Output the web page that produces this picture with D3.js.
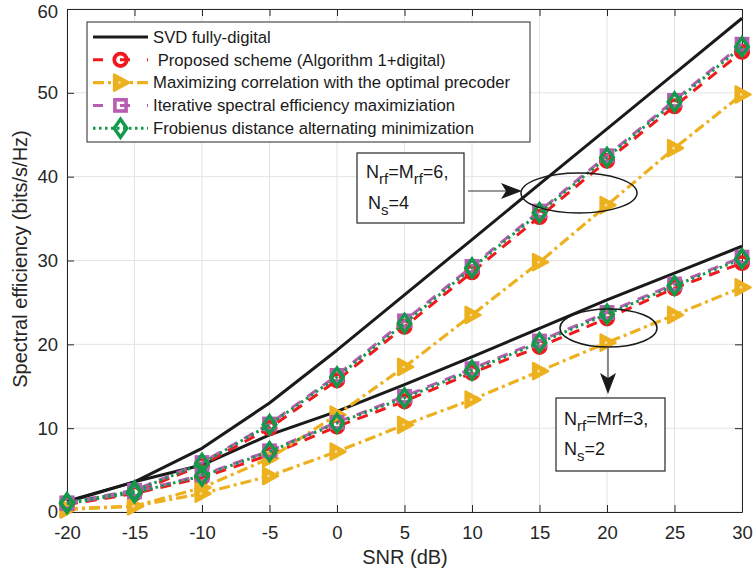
<!DOCTYPE html>
<html>
<head>
<meta charset="utf-8">
<script src="https://cdn.jsdelivr.net/npm/d3@7/dist/d3.min.js"></script>
<style>
  html, body { margin: 0; padding: 0; background: #fff; }
  svg { display: block; font-family: "Liberation Sans", Arial, Helvetica, sans-serif; }
</style>
</head>
<body>
<svg id="chart" width="756" height="578"></svg>
<script>
// SNR sweep (dB)
const snr = [-20, -15, -10, -5, 0, 5, 10, 15, 20, 25, 30];

// Nrf = Mrf = 6, Ns = 4
const svd6  = [1.3, 3.6, 7.6, 13.0, 19.3, 25.9, 32.5, 39.1, 45.7, 52.3, 58.9];
const prop6 = [1.0, 2.3, 5.6, 10.0, 15.7, 22.1, 28.6, 35.2, 41.9, 48.4, 54.9];
const corr6 = [0.4, 0.7, 2.9, 6.4, 11.6, 17.3, 23.5, 29.8, 36.6, 43.4, 49.8];
const iter6 = [1.1, 2.6, 5.9, 10.5, 16.3, 22.8, 29.3, 35.9, 42.5, 49.1, 55.8];
const frob6 = [1.1, 2.5, 5.8, 10.4, 16.1, 22.5, 29.1, 35.7, 42.3, 48.9, 55.5];

// Nrf = Mrf = 3, Ns = 2
const svd3  = [1.2, 3.6, 5.6, 9.2, 12.0, 15.2, 18.5, 21.9, 25.3, 28.5, 31.7];
const prop3 = [0.9, 2.2, 4.1, 6.8, 10.2, 13.2, 16.6, 19.7, 23.1, 26.7, 29.7];
const corr3 = [0.3, 0.7, 2.2, 4.3, 7.2, 10.4, 13.4, 16.8, 20.2, 23.5, 26.8];
const iter3 = [1.0, 2.4, 4.4, 7.3, 10.7, 13.8, 17.1, 20.4, 23.8, 27.2, 30.4];
const frob3 = [1.0, 2.3, 4.3, 7.2, 10.6, 13.6, 16.9, 20.2, 23.6, 27.0, 30.2];

const xTicks = [-20, -15, -10, -5, 0, 5, 10, 15, 20, 25, 30];
const yTicks = [0, 10, 20, 30, 40, 50, 60];

const legendLabels = [
  "SVD fully-digital",
  " Proposed scheme (Algorithm 1+digital)",
  "Maximizing correlation with the optimal precoder",
  "Iterative spectral efficiency maximiziation",
  "Frobienus distance alternating minimization"
];

// series styles
const styles = [
  { color: "#1a1a1a", dash: null,            marker: null,       width: 3 },
  { color: "#f0191e", dash: "11,8",          marker: "circle",   width: 3 },
  { color: "#edb120", dash: "11,4,3,4",      marker: "triangle", width: 3.2 },
  { color: "#b85db3", dash: "11,8",          marker: "square",   width: 3 },
  { color: "#13994a", dash: "2.5,3.5",       marker: "diamond",  width: 3 }
];

const groups = [
  [svd6, prop6, corr6, iter6, frob6],
  [svd3, prop3, corr3, iter3, frob3]
];

const svg = d3.select("#chart");
const L = 67, R = 742, T = 9, B = 512;

const x = d3.scaleLinear().domain([-20, 30]).range([L, R]);
const y = d3.scaleLinear().domain([0, 60]).range([B, T]);

// grid
const grid = svg.append("g").attr("stroke", "#e3e3e3").attr("stroke-width", 1);
xTicks.forEach(t => grid.append("line")
  .attr("x1", x(t)).attr("x2", x(t)).attr("y1", T).attr("y2", B));
yTicks.forEach(t => grid.append("line")
  .attr("x1", L).attr("x2", R).attr("y1", y(t)).attr("y2", y(t)));

// axes
const axisColor = "#262626";
const tickFont = 18.5;
const gx = svg.append("g").attr("transform", `translate(0,${B})`)
  .call(d3.axisBottom(x).tickValues(xTicks).tickSizeInner(-7).tickSizeOuter(0).tickPadding(14));
const gy = svg.append("g").attr("transform", `translate(${L},0)`)
  .call(d3.axisLeft(y).tickValues(yTicks).tickSizeInner(-7).tickSizeOuter(0).tickPadding(9));
const gxt = svg.append("g").attr("transform", `translate(0,${T})`)
  .call(d3.axisTop(x).tickValues(xTicks).tickSizeInner(-7).tickSizeOuter(0).tickFormat(""));
const gyr = svg.append("g").attr("transform", `translate(${R},0)`)
  .call(d3.axisRight(y).tickValues(yTicks).tickSizeInner(-7).tickSizeOuter(0).tickFormat(""));
[gx, gy, gxt, gyr].forEach(g => {
  g.select(".domain").attr("stroke", axisColor).attr("stroke-width", 1);
  g.selectAll(".tick line").attr("stroke", axisColor);
  g.selectAll(".tick text").attr("fill", "#262626").attr("font-size", tickFont)
    .attr("font-family", "Liberation Sans, Arial, sans-serif");
});
gx.selectAll(".tick text").text(d => d < 0 ? "-" + Math.abs(d) : d);
// keep the top label inside the page
gy.selectAll(".tick text").filter(d => d === 60).attr("dy", "0.45em");

const line = d3.line().x((d, i) => x(snr[i])).y(d => y(d));
const plot = svg.append("g");

function drawMarker(g, kind, cx, cy, color, scale = 1) {
  const s = scale;
  if (kind === "circle") {
    g.append("circle").attr("cx", cx).attr("cy", cy).attr("r", 6.2 * s)
      .attr("fill", "none").attr("stroke", color).attr("stroke-width", 3.8);
  } else if (kind === "square") {
    const h = 5.6 * s;
    g.append("rect").attr("x", cx - h).attr("y", cy - h).attr("width", 2 * h).attr("height", 2 * h)
      .attr("fill", "none").attr("stroke", color).attr("stroke-width", 3.6);
  } else if (kind === "diamond") {
    const h = 9 * s, w = 6.3 * s;
    g.append("path").attr("d", `M${cx},${cy - h}L${cx + w},${cy}L${cx},${cy + h}L${cx - w},${cy}Z`)
      .attr("fill", "none").attr("stroke", color).attr("stroke-width", 3.4);
  } else if (kind === "triangle") {
    const h = 8.5 * s;
    g.append("path").attr("d", `M${cx + h},${cy}L${cx - h * 0.75},${cy - h * 0.95}L${cx - h * 0.75},${cy + h * 0.95}Z`)
      .attr("fill", color).attr("stroke", color).attr("stroke-width", 2.5).attr("stroke-linejoin", "round");
    g.append("circle").attr("cx", cx - 1).attr("cy", cy).attr("r", 1.3).attr("fill", "#f7dea0");
  }
}

// draw each series for both antenna configurations, layered by series
styles.forEach((st, si) => {
  groups.forEach(grp => {
    const vals = grp[si];
    const p = plot.append("path").datum(vals).attr("d", line)
      .attr("fill", "none").attr("stroke", st.color).attr("stroke-width", st.width)
      .attr("stroke-linejoin", "round");
    if (st.dash) p.attr("stroke-dasharray", st.dash);
    if (st.marker) {
      const mg = plot.append("g");
      vals.forEach((v, i) => drawMarker(mg, st.marker, x(snr[i]), y(v), st.color));
    }
  });
});

// legend
const lg = svg.append("g");
const lgX = 87, lgY = 22, lgW = 443, lgH = 120;
lg.append("rect").attr("x", lgX).attr("y", lgY).attr("width", lgW).attr("height", lgH)
  .attr("fill", "#fff").attr("stroke", "#262626").attr("stroke-width", 1);
legendLabels.forEach((lab, i) => {
  const ry = lgY + 15 + i * 22.8;
  const st = styles[i];
  const l = lg.append("line").attr("x1", 93).attr("x2", 148).attr("y1", ry).attr("y2", ry)
    .attr("stroke", st.color).attr("stroke-width", st.width);
  if (st.dash) l.attr("stroke-dasharray", st.dash);
  if (i === 1 || i === 3) l.attr("stroke-dasharray", "10,17");
  if (st.marker) drawMarker(lg, st.marker, 120.5, ry, st.color);
  lg.append("text").attr("x", 153).attr("y", ry + 5.8).attr("font-size", 16.7)
    .attr("fill", "#1a1a1a").style("white-space", "pre").text(lab);
});

// annotations
const ann = svg.append("g");
function annBox(bx, by, bw, bh) {
  ann.append("rect").attr("x", bx).attr("y", by).attr("width", bw).attr("height", bh)
    .attr("fill", "#fff").attr("stroke", "#262626").attr("stroke-width", 1.2);
}
function subText(tx, ty, parts) {
  const t = ann.append("text").attr("x", tx).attr("y", ty).attr("font-size", 18).attr("fill", "#1a1a1a");
  parts.forEach(p => {
    const s = t.append("tspan").text(p.t);
    if (p.sub) s.attr("font-size", 15).attr("dy", 6);
    else if (p.after) s.attr("dy", -6);
  });
}
annBox(357, 153, 107, 70);
subText(366, 178, [{ t: "N" }, { t: "rf", sub: true }, { t: "=M", after: true }, { t: "rf", sub: true }, { t: "=6,", after: true }]);
subText(368, 209, [{ t: "N" }, { t: "s", sub: true }, { t: "=4", after: true }]);

annBox(556, 398, 109, 73);
subText(564, 425, [{ t: "N" }, { t: "rf", sub: true }, { t: "=Mrf=3,", after: true }]);
subText(564, 455, [{ t: "N" }, { t: "s", sub: true }, { t: "=2", after: true }]);

// ellipses
ann.append("ellipse").attr("cx", 579).attr("cy", 193).attr("rx", 58).attr("ry", 20)
  .attr("fill", "none").attr("stroke", "#1a1a1a").attr("stroke-width", 1.5);
ann.append("ellipse").attr("cx", 608.5).attr("cy", 328).attr("rx", 48.5).attr("ry", 19)
  .attr("fill", "none").attr("stroke", "#1a1a1a").attr("stroke-width", 1.5);

// arrows
ann.append("line").attr("x1", 468).attr("y1", 191).attr("x2", 510).attr("y2", 191)
  .attr("stroke", "#333").attr("stroke-width", 1.2);
ann.append("path").attr("d", "M522,191L501,183L506,191L501,199Z").attr("fill", "#1a1a1a");
ann.append("line").attr("x1", 608).attr("y1", 347).attr("x2", 608).attr("y2", 382)
  .attr("stroke", "#666").attr("stroke-width", 1.5);
ann.append("path").attr("d", "M608,394L600,373L608,378L616,373Z").attr("fill", "#1a1a1a");

// axis titles
svg.append("text").attr("x", 405).attr("y", 564).attr("text-anchor", "middle")
  .attr("font-size", 20).attr("fill", "#262626").text("SNR (dB)");
svg.append("text").attr("transform", "translate(27,259) rotate(-90)").attr("text-anchor", "middle")
  .attr("font-size", 20).attr("fill", "#262626").text("Spectral efficiency (bits/s/Hz)");
</script>
</body>
</html>
